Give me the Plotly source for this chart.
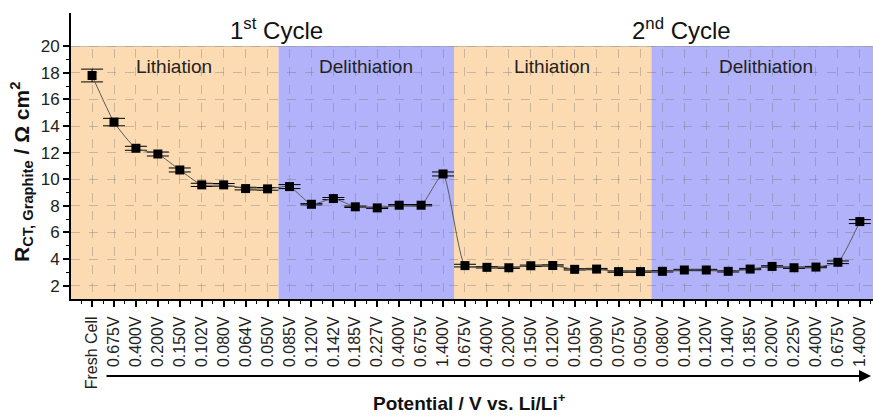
import plotly.graph_objects as go

labels = ["Fresh Cell",
          "0.675V", "0.400V", "0.200V", "0.150V", "0.102V", "0.080V", "0.064V", "0.050V",
          "0.085V", "0.120V", "0.142V", "0.185V", "0.227V", "0.400V", "0.675V", "1.400V",
          "0.675V", "0.400V", "0.200V", "0.150V", "0.120V", "0.105V", "0.090V", "0.075V", "0.050V",
          "0.080V", "0.100V", "0.120V", "0.140V", "0.185V", "0.200V", "0.225V", "0.400V", "0.675V", "1.400V"]

rct = [17.8, 14.3, 12.33, 11.9, 10.7, 9.58, 9.58, 9.3, 9.28,
       9.45, 8.12, 8.55, 7.93, 7.85, 8.05, 8.05, 10.4,
       3.51, 3.38, 3.35, 3.5, 3.52, 3.23, 3.25, 3.06, 3.06,
       3.08, 3.18, 3.18, 3.08, 3.25, 3.45, 3.35, 3.4, 3.76, 6.82]

rct_err = [0.48, 0.28, 0.15, 0.15, 0.15, 0.12, 0.1, 0.1, 0.1,
           0.15, 0.05, 0.08, 0.05, 0.05, 0.05, 0.05, 0.15,
           0.1, 0.05, 0.05, 0.05, 0.05, 0.05, 0.05, 0.05, 0.05,
           0.05, 0.05, 0.05, 0.05, 0.05, 0.05, 0.05, 0.05, 0.1, 0.15]

y_ticks = [2, 4, 6, 8, 10, 12, 14, 16, 18, 20]

# phase boundaries in category-index units
phases = [(-1.5, 8.5, "rgb(252,219,178)"), (8.5, 16.5, "rgb(178,178,250)"),
          (16.5, 25.5, "rgb(252,219,178)"), (25.5, 37.5, "rgb(178,178,250)")]
phase_labels = [(3.72, "Lithiation"), (12.49, "Delithiation"), (20.95, "Lithiation"), (30.7, "Delithiation")]
cycle_labels = [(8.4, "1<sup>st</sup> Cycle"), (26.85, "2<sup>nd</sup> Cycle")]

x_idx = list(range(len(labels)))
FONT = "Liberation Sans, Arial, sans-serif"

fig = go.Figure()
fig.add_trace(go.Scatter(
    x=x_idx, y=rct, mode="lines+markers",
    line=dict(color="rgb(90,90,90)", width=1, shape="spline", smoothing=0.5),
    marker=dict(symbol="square", size=9, color="black"),
    error_y=dict(type="data", array=rct_err, color="black", thickness=1, width=11),
    showlegend=False, cliponaxis=False,
))

YMIN, YMAX, YHEAD = 1.0, 22.5, 20
XMIN, XMAX = -0.96, 35.6

shapes = []
for x0, x1, col in phases:
    shapes.append(dict(type="rect", xref="x", yref="y", x0=x0, x1=x1, y0=YMIN, y1=YHEAD,
                       fillcolor=col, line=dict(width=0), layer="below"))
shapes.append(dict(type="rect", xref="x", yref="y", x0=XMIN, x1=37.5, y0=YHEAD, y1=YMAX,
                   fillcolor="white", line=dict(width=0), layer="between"))
shapes.append(dict(type="line", xref="paper", yref="y", x0=0, x1=1, y0=YHEAD, y1=YHEAD,
                   line=dict(color="black", width=1.5), layer="between"))
shapes.append(dict(type="line", xref="x", yref="paper", x0=16.5, x1=16.5, y0=0, y1=1,
                   line=dict(color="black", width=2), layer="between"))

annotations = []
for xc, t in phase_labels:
    annotations.append(dict(x=xc, y=18.5, xref="x", yref="y", text=t, showarrow=False,
                            font=dict(family=FONT, size=19, color="#222")))
for xc, t in cycle_labels:
    annotations.append(dict(x=xc, y=21.3, xref="x", yref="y", text=t, showarrow=False,
                            font=dict(family=FONT, size=24, color="#111")))
annotations.append(dict(x=0, y=0.5, xref="paper", yref="paper", xshift=-50, yshift=-16,
                        text="<b>R<sub>CT, Graphite</sub> / \u03a9 cm<sup>2</sup></b>",
                        textangle=-90, showarrow=False, xanchor="center", yanchor="middle",
                        font=dict(family=FONT, size=21, color="#111")))
annotations.append(dict(x=0.4975, y=-0.359, xref="paper", yref="paper",
                        text="<b>Potential / V vs. Li/Li<sup>+</sup></b>", showarrow=False,
                        xanchor="center", yanchor="middle",
                        font=dict(family=FONT, size=19, color="#111")))
annotations.append(dict(x=0.9975, y=-0.269, xref="paper", yref="paper", text="",
                        showarrow=True, axref="pixel", ayref="pixel", ax=-766, ay=0,
                        arrowhead=2, arrowsize=1.2, arrowwidth=2, arrowcolor="black"))

fig.update_layout(
    width=873, height=417,
    margin=dict(l=71, r=0, t=13, b=118),
    paper_bgcolor="white", plot_bgcolor="white",
    font=dict(family=FONT, color="#222"),
    shapes=shapes, annotations=annotations,
    xaxis=dict(range=[XMIN, XMAX], tickmode="array", tickvals=x_idx, ticktext=labels,
               tickangle=-90, tickfont=dict(family=FONT, size=16, color="#222"),
               ticks="outside", ticklen=6, tickwidth=1.5, tickcolor="black",
               ticklabelstandoff=3,
               showline=True, linecolor="black", linewidth=2,
               showgrid=True, gridcolor="rgba(110,110,110,0.35)", griddash="dash", gridwidth=1,
               zeroline=False,
               minor=dict(tickmode="array", tickvals=[i + 0.5 for i in range(-1, 36)],
                          ticks="outside", ticklen=3, tickwidth=1.2, tickcolor="black", showgrid=False)),
    yaxis=dict(range=[YMIN, YMAX], tickmode="array", tickvals=y_ticks,
               tickfont=dict(family=FONT, size=17, color="#222"),
               ticks="outside", ticklen=6, tickwidth=1.5, tickcolor="black",
               showline=True, linecolor="black", linewidth=2,
               showgrid=True, gridcolor="rgba(110,110,110,0.35)", griddash="dash", gridwidth=1,
               zeroline=False,
               minor=dict(tickmode="array", tickvals=[3, 5, 7, 9, 11, 13, 15, 17, 19],
                          ticks="outside", ticklen=3, tickwidth=1.2, tickcolor="black", showgrid=False)),
)

fig.write_html("out.html")
